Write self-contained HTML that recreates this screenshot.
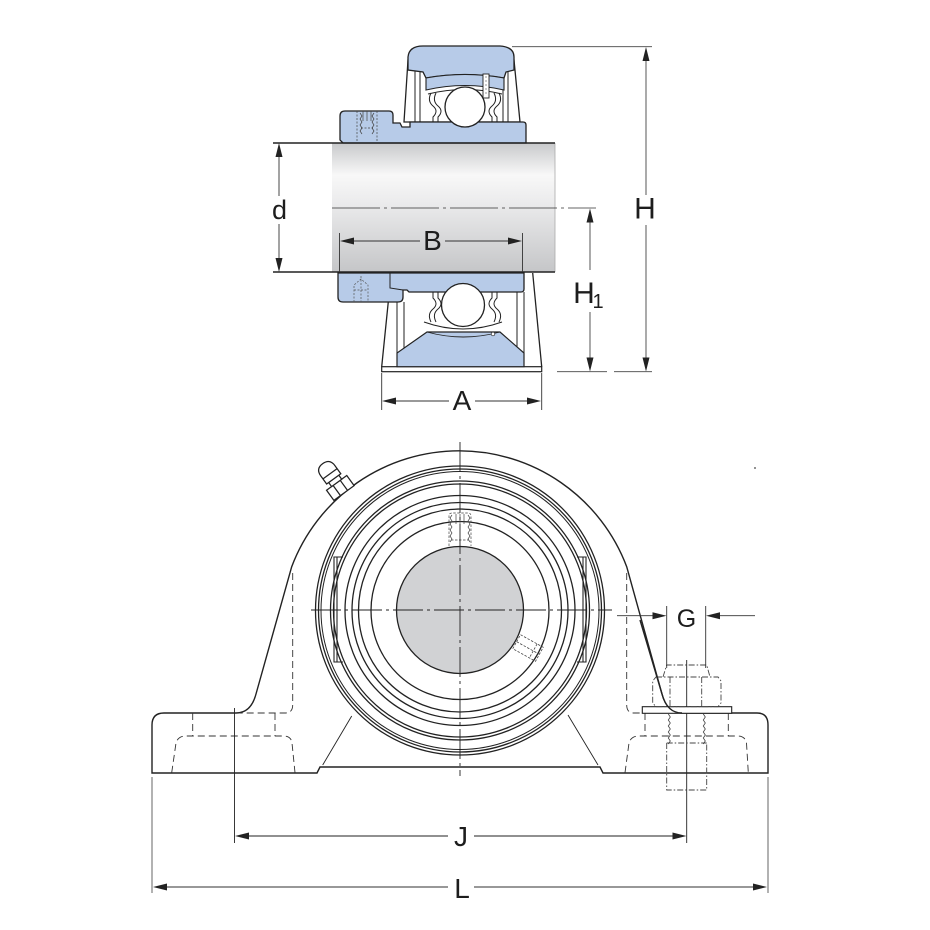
<!DOCTYPE html>
<html><head><meta charset="utf-8"><style>
html,body{margin:0;padding:0;background:#fff;}
svg{display:block}
text{font-family:"Liberation Sans",sans-serif;fill:#1d1d1d;}
</style></head><body>
<svg width="930" height="930" viewBox="0 0 930 930" xmlns="http://www.w3.org/2000/svg">
<defs>
<linearGradient id="sh" x1="0" y1="0" x2="0" y2="1">
<stop offset="0" stop-color="#c8c9cb"/>
<stop offset="0.25" stop-color="#f8f8f8"/>
<stop offset="0.45" stop-color="#ececed"/>
<stop offset="1" stop-color="#c5c6c8"/>
</linearGradient>
</defs>

<!-- ============ SIDE VIEW (top) ============ -->
<rect x="332" y="143" width="223" height="129" fill="url(#sh)"/>
<line x1="555" y1="143" x2="555" y2="272" stroke="#aaa" stroke-width="0.8"/>

<polygon points="408,60 404,122 520,122 514,60" fill="#fff" stroke="#222" stroke-width="1.3"/>
<g stroke="#222" stroke-width="1" fill="none">
<line x1="415" y1="70" x2="415" y2="122"/>
<line x1="420" y1="72" x2="420" y2="122"/>
<line x1="503" y1="72" x2="503" y2="122"/>
<line x1="508" y1="70" x2="508" y2="122"/>
</g>
<path d="M408,70 L408,57 Q409,46 423,46 L500,46 Q514,47 514,57 L514,70 L506,72 L504,78 Q465,71 426,78 L423,72 Z" fill="#b7cbe8" stroke="#222" stroke-width="1.3"/>
<path d="M426,78 Q465,71 504,78 L504,90 Q465,81 426,90 Z" fill="#b7cbe8" stroke="#222" stroke-width="1.1"/>
<path d="M428,94 Q465,85 502,94" fill="none" stroke="#222" stroke-width="1"/>
<rect x="483" y="74" width="6" height="24" fill="#fff" stroke="#222" stroke-width="0.9"/>
<line x1="486" y1="76" x2="486" y2="96" stroke="#555" stroke-width="0.6" stroke-dasharray="2 2"/>

<path d="M343,143 L340,140 L340,116 Q340,111 345,111 L389,111 Q393,111 393,115 L393,123 L400,123 L402,127 L410,127 L410,122 L523,122 Q526,122 526,125 L526,143 Z" fill="#b7cbe8" stroke="#222" stroke-width="1.3"/>
<g stroke="#444" stroke-width="0.7" fill="none">
<path d="M357,111 L357,143 M377,111 L377,143" stroke-dasharray="2 1.5"/>
<path d="M360,113 l2,3 l-2,3 l2,3 l-2,3 l2,3 l-2,3 l2,3 M374,113 l-2,3 l2,3 l-2,3 l2,3 l-2,3 l2,3 l-2,3"/>
<path d="M363,111 L363,121 M367,111 L367,121 M371,111 L371,121" />
<path d="M361,128 L373,128" stroke-dasharray="2 1.5"/>
</g>
<g stroke="#222" stroke-width="1" fill="none">
<path d="M431,93 Q427,101 433,106 Q439,111 433,117 L433,122"/>
<path d="M436,93 Q432,101 438,106 Q444,111 438,117 L438,122"/>
<path d="M499,93 Q503,101 497,106 Q491,111 497,117 L497,122"/>
<path d="M494,93 Q498,101 492,106 Q486,111 492,117 L492,122"/>
</g>
<circle cx="465" cy="107" r="20" fill="#fff" stroke="#222" stroke-width="1.3"/>

<polygon points="388,290 381.7,366.7 541.7,366.7 532.7,273 388,273" fill="#fff"/>
<line x1="388.3" y1="301.7" x2="381.7" y2="366.7" stroke="#222" stroke-width="1.3"/>
<line x1="532.7" y1="273" x2="541.7" y2="366.7" stroke="#222" stroke-width="1.3"/>
<rect x="381.7" y="366.7" width="160" height="5" fill="#fff" stroke="#222" stroke-width="1.2"/>
<g stroke="#222" stroke-width="1" fill="none">
<line x1="397" y1="293" x2="397" y2="354"/>
<line x1="404" y1="302" x2="404" y2="350"/>
<line x1="517" y1="292" x2="517" y2="350"/>
<line x1="524" y1="292" x2="524" y2="354"/>
</g>
<polygon points="397,366.7 397,353 427,332 500,332 524,353 524,366.7" fill="#b7cbe8" stroke="#222" stroke-width="1.2"/>
<path d="M424,322 Q463,336 502,322" fill="none" stroke="#222" stroke-width="1"/>
<path d="M427,332 Q463,342 500,332" fill="none" stroke="#222" stroke-width="0.9"/>
<circle cx="493" cy="334" r="1.8" fill="#fff" stroke="#222" stroke-width="0.7"/>
<path d="M338,273 L524,273 L524,289 Q524,292 521,292 L409,292 L407,290 L403,290 L403,297 Q403,302 398,302 L343,302 Q338,302 338,297 Z" fill="#b7cbe8" stroke="#222" stroke-width="1.3"/>
<path d="M390,273 L390,288 L403,290" fill="none" stroke="#222" stroke-width="1"/>
<g stroke="#555" stroke-width="0.7" fill="none" stroke-dasharray="2 1.5">
<path d="M354,302 L354,285 L361,279 L368,285 L368,302"/>
<path d="M361,276 L361,302 M354,290 L368,290"/>
</g>
<g stroke="#222" stroke-width="1" fill="none">
<path d="M431,322 Q427,314 433,309 Q439,304 433,298 L433,292"/>
<path d="M436,322 Q432,314 438,309 Q444,304 438,298 L438,292"/>
<path d="M499,322 Q503,314 497,309 Q491,304 497,298 L497,292"/>
<path d="M494,322 Q498,314 492,309 Q486,304 492,298 L492,292"/>
</g>
<circle cx="463" cy="305" r="21.5" fill="#fff" stroke="#222" stroke-width="1.3"/>

<line x1="273" y1="143" x2="555" y2="143" stroke="#222" stroke-width="1.5"/>
<line x1="273" y1="272" x2="555" y2="272" stroke="#222" stroke-width="1.5"/>
<line x1="332" y1="208" x2="596" y2="208" stroke="#333" stroke-width="0.8" stroke-dasharray="48 4 3 4"/>

<!-- d -->
<g stroke="#333" stroke-width="0.9">
<line x1="279" y1="150" x2="279" y2="196"/>
<line x1="279" y1="224" x2="279" y2="265"/>
</g>
<polygon points="279,143 275.5,157 282.5,157" fill="#222"/>
<polygon points="279,272 275.5,258 282.5,258" fill="#222"/>
<text x="279.5" y="219" font-size="27" text-anchor="middle">d</text>

<!-- B -->
<g stroke="#333" stroke-width="0.9">
<line x1="339.5" y1="233" x2="339.5" y2="272"/>
<line x1="522.5" y1="233" x2="522.5" y2="272"/>
<line x1="345" y1="241" x2="420" y2="241"/>
<line x1="445" y1="241" x2="517" y2="241"/>
</g>
<polygon points="340,241 354,237.5 354,244.5" fill="#222"/>
<polygon points="522,241 508,237.5 508,244.5" fill="#222"/>
<text x="432.5" y="250" font-size="28" text-anchor="middle">B</text>

<!-- A -->
<g stroke="#333" stroke-width="0.9">
<line x1="381.7" y1="373" x2="381.7" y2="410"/>
<line x1="541.7" y1="373" x2="541.7" y2="410"/>
<line x1="388" y1="401" x2="449" y2="401"/>
<line x1="475" y1="401" x2="536" y2="401"/>
</g>
<polygon points="382,401 396,397.5 396,404.5" fill="#222"/>
<polygon points="541,401 527,397.5 527,404.5" fill="#222"/>
<text x="462" y="410" font-size="28" text-anchor="middle">A</text>

<!-- H, H1 -->
<g stroke="#444" stroke-width="0.9">
<line x1="512" y1="46.7" x2="652" y2="46.7"/>
<line x1="646" y1="55" x2="646" y2="195"/>
<line x1="646" y1="225" x2="646" y2="364"/>
<line x1="557" y1="371.7" x2="607" y2="371.7"/>
<line x1="614" y1="371.7" x2="652" y2="371.7"/>
<line x1="590" y1="215" x2="590" y2="270"/>
<line x1="590" y1="312" x2="590" y2="364"/>
</g>
<polygon points="646,47 642.5,61 649.5,61" fill="#222"/>
<polygon points="646,371.5 642.5,357.5 649.5,357.5" fill="#222"/>
<polygon points="590,208.5 586.5,222.5 593.5,222.5" fill="#222"/>
<polygon points="590,371.5 586.5,357.5 593.5,357.5" fill="#222"/>
<text x="645" y="218.5" font-size="30" text-anchor="middle">H</text>
<text x="584" y="303" font-size="30" text-anchor="middle">H</text>
<text x="598" y="308" font-size="20" text-anchor="middle">1</text>

<!-- ============ FRONT VIEW (bottom) ============ -->
<path d="M152,725 Q152,713 164,713 L236,713 Q251,713 256,694 L291.7,566.7 A179,179 0 0 1 626.7,566.7 L662,694 Q667,713 682,713 L757,713 Q768,713 768,725 L768,773 L603,773 L600,767 L320,767 L317,773 L152,773 Z" fill="#fff" stroke="#222" stroke-width="1.4"/>

<line x1="322.7" y1="765" x2="351.7" y2="716" stroke="#222" stroke-width="0.9"/>
<line x1="568" y1="715" x2="598" y2="765" stroke="#222" stroke-width="0.9"/>

<g fill="none" stroke="#222" stroke-width="1.3">
<circle cx="460" cy="610.5" r="144.5"/>
<circle cx="460" cy="610.5" r="141.5"/>
<circle cx="460" cy="610.5" r="139" stroke-width="1"/>
<circle cx="460" cy="610.5" r="129.5"/>
<circle cx="460" cy="610.5" r="126.5"/>
<circle cx="460" cy="610.5" r="115"/>
<circle cx="460" cy="610.5" r="108"/>
<circle cx="460" cy="610.5" r="101.5"/>
<circle cx="460" cy="610.5" r="89"/>
</g>
<g fill="none" stroke="#222" stroke-width="1.1">
<path d="M343,557 L334,557 L334,662 L343,662"/>
<line x1="337" y1="557" x2="337" y2="662"/>
<path d="M577,557 L586,557 L586,662 L577,662"/>
<line x1="583" y1="557" x2="583" y2="662"/>
</g>
<circle cx="460" cy="610" r="63.5" fill="#d1d2d4" stroke="#222" stroke-width="1.3"/>

<g fill="none" stroke="#444" stroke-width="0.7">
<path d="M449,546 L449,516 Q449,513 452,513 L468,513 Q471,513 471,516 L471,546" stroke-dasharray="2.5 1.5"/>
<path d="M452,515 l-2,3 l2,3 l-2,3 l2,3 l-2,3 l2,3 l-2,3 l2,3 l-2,3 M468,515 l2,3 l-2,3 l2,3 l-2,3 l2,3 l-2,3 l2,3 l-2,3 l2,3"/>
<path d="M456,514 L456,524 M460,514 L460,524 M464,514 L464,524"/>
<path d="M451,540 L469,540" stroke-dasharray="2.5 1.5"/>
</g>
<g transform="translate(528,648) rotate(29)" fill="none" stroke="#444" stroke-width="0.8" stroke-dasharray="2.5 1.5">
<rect x="-13" y="-8" width="26" height="16"/>
<line x1="6" y1="-8" x2="6" y2="8"/>
<line x1="-13" y1="0" x2="13" y2="0"/>
</g>

<line x1="460" y1="442" x2="460" y2="776" stroke="#222" stroke-width="0.9" stroke-dasharray="30 4 3 4"/>
<line x1="311" y1="610" x2="612" y2="610" stroke="#222" stroke-width="0.9" stroke-dasharray="30 4 3 4"/>

<!-- grease nipple -->
<g transform="translate(344,493) rotate(-36) scale(1.25)" fill="#fff" stroke="#222" stroke-width="1">
<rect x="-10" y="-10" width="20" height="10"/>
<line x1="-3.5" y1="-10" x2="-3.5" y2="0"/>
<line x1="3.5" y1="-10" x2="3.5" y2="0"/>
<rect x="-5" y="-14" width="10" height="4"/>
<path d="M-7,-14 L-7,-22 Q-7,-29 0,-29 Q7,-29 7,-22 L7,-14 Z"/>
<line x1="-7" y1="-19" x2="7" y2="-19"/>
</g>

<g fill="none" stroke="#333" stroke-width="0.9" stroke-dasharray="7 4">
<path d="M292.7,573 L292.7,705 Q292.7,713 285,713 L240,713"/>
<path d="M192.7,713 L192.7,736 M275,713 L275,736"/>
<path d="M171.7,772.7 L176,743 Q178,736 186,736 L284,736 Q291,736 292,743 L295,772.7"/>
</g>
<g fill="none" stroke="#333" stroke-width="0.9" stroke-dasharray="7 4">
<path d="M626.7,573 L626.7,705 Q626.7,713 634,713 L642,713"/>
<path d="M645,713 L645,736 M728.3,713 L728.3,736"/>
<path d="M625,772.7 L629,743 Q631,736 639,736 L738,736 Q745,736 746.5,743 L748.3,772.7"/>
</g>

<line x1="234.5" y1="708" x2="234.5" y2="843" stroke="#222" stroke-width="0.9"/>
<line x1="686.7" y1="660" x2="686.7" y2="843" stroke="#222" stroke-width="0.9"/>

<rect x="642.3" y="706.7" width="89.4" height="6.6" fill="#fff" stroke="#222" stroke-width="1.1"/>
<g fill="none" stroke="#444" stroke-width="0.9" stroke-dasharray="6 2 1.5 2">
<path d="M656,677 L718,677 L721,681 L721,703 L718,706.7 L656,706.7 L652.7,703 L652.7,681 Z"/>
<line x1="670" y1="677" x2="670" y2="706.7"/>
<line x1="701.7" y1="677" x2="701.7" y2="706.7"/>
<path d="M663,677 L666.7,665 L706.7,665 L710,677"/>
<path d="M666.7,743 L666.7,790 L706.7,790 L706.7,743"/>
<line x1="666.7" y1="743" x2="706.7" y2="743"/>
</g>
<g fill="none" stroke="#444" stroke-width="0.8">
<path d="M668.3,714 l2,3 l-2,3 l2,3 l-2,3 l2,3 l-2,3 l2,3 l-2,3 l2,3 l-2,3"/>
<path d="M703.3,714 l2,3 l-2,3 l2,3 l-2,3 l2,3 l-2,3 l2,3 l-2,3 l2,3 l-2,3"/>
</g>
<path d="M640,620 L662,694 Q667,713 682,713" fill="none" stroke="#222" stroke-width="1.4"/>

<!-- G -->
<g stroke="#333" stroke-width="0.9">
<line x1="666.7" y1="606" x2="666.7" y2="668"/>
<line x1="705.7" y1="606" x2="705.7" y2="668"/>
<line x1="617" y1="615.7" x2="655" y2="615.7"/>
<line x1="717" y1="615.7" x2="755" y2="615.7"/>
</g>
<polygon points="666.5,615.7 652.5,612.2 652.5,619.2" fill="#222"/>
<polygon points="706,615.7 720,612.2 720,619.2" fill="#222"/>
<text x="686.5" y="627" font-size="25" text-anchor="middle">G</text>

<!-- J -->
<line x1="240" y1="836" x2="448" y2="836" stroke="#222" stroke-width="1"/>
<line x1="474" y1="836" x2="682" y2="836" stroke="#222" stroke-width="1"/>
<polygon points="235,836 249,832.5 249,839.5" fill="#222"/>
<polygon points="686.5,836 672.5,832.5 672.5,839.5" fill="#222"/>
<text x="461" y="846" font-size="28" text-anchor="middle">J</text>

<!-- L -->
<line x1="152" y1="777" x2="152" y2="893" stroke="#555" stroke-width="0.9"/>
<line x1="768" y1="777" x2="768" y2="893" stroke="#555" stroke-width="0.9"/>
<line x1="158" y1="887" x2="448" y2="887" stroke="#777" stroke-width="1.4"/>
<line x1="474" y1="887" x2="762" y2="887" stroke="#777" stroke-width="1.4"/>
<polygon points="153,887 167,883.5 167,890.5" fill="#222"/>
<polygon points="767,887 753,883.5 753,890.5" fill="#222"/>
<text x="462" y="898" font-size="28" text-anchor="middle">L</text>

<circle cx="755" cy="468" r="0.9" fill="#444"/>
</svg>
</body></html>
